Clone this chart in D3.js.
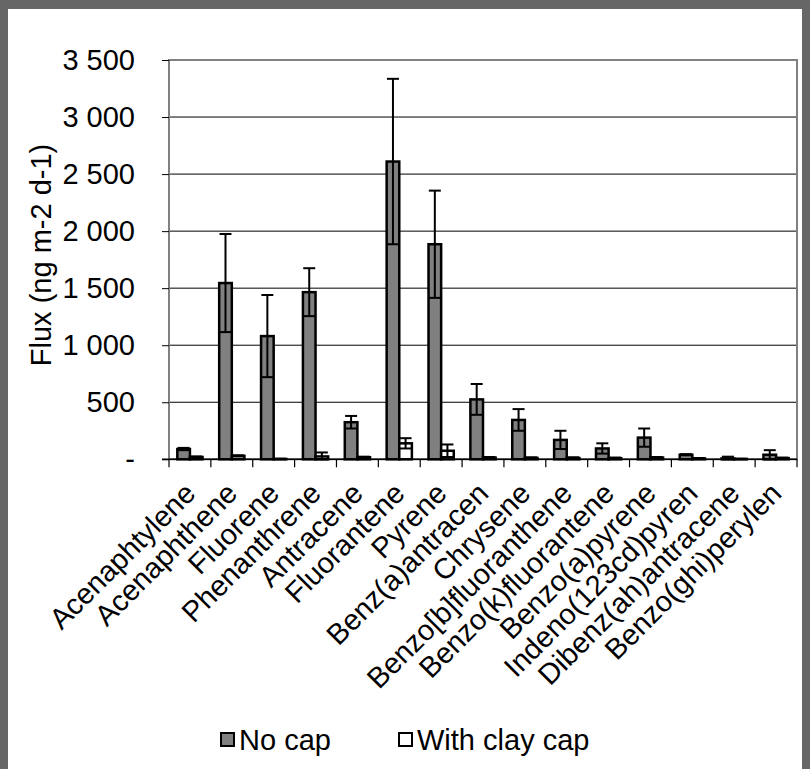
<!DOCTYPE html>
<html>
<head>
<meta charset="utf-8">
<script src="https://cdn.jsdelivr.net/npm/d3@7"></script>
<style>
  html, body { margin: 0; padding: 0; background: #fff; }
  svg { display: block; }
  text { font-family: "Liberation Sans", Arial, sans-serif; fill: #000; }
</style>
</head>
<body>
<svg id="chart" width="810" height="769"></svg>
<script>
// PAH flux per compound, without and with a clay cap (ng m-2 d-1)
const categories = [
  "Acenaphtylene", "Acenaphthene", "Fluorene", "Phenanthrene", "Antracene",
  "Fluorantene", "Pyrene", "Benz(a)antracen", "Chrysene", "Benzo[b]fluoranthene",
  "Benzo(k)fluorantene", "Benzo(a)pyrene", "Indeno(123cd)pyren",
  "Dibenz(ah)antracene", "Benzo(ghi)perylen"
];
const seriesNames = ["No cap", "With clay cap"];
const noCap     = [90, 1545, 1080, 1465, 325, 2610, 1885, 525, 345, 170, 95, 190, 40, 8, 40];
const noCapErr  = [10, 430, 360, 210, 55, 725, 470, 135, 95, 80, 45, 80, 5, 15, 40];
const clayCap   = [20, 30, 3, 25, 18, 140, 75, 15, 12, 12, 10, 15, 8, 3, 10];
const clayErr   = [5, 5, 2, 35, 5, 45, 55, 5, 5, 5, 5, 5, 3, 2, 5];
const yTicks    = [0, 500, 1000, 1500, 2000, 2500, 3000, 3500];

const series = [
  { name: seriesNames[0], values: noCap, errors: noCapErr, fill: "#808080" },
  { name: seriesNames[1], values: clayCap, errors: clayErr, fill: "#ffffff" }
];

const svg = d3.select("#chart");
const W = 810, H = 769;
const FONT = "29px";

// outer frame
svg.append("rect").attr("x", 0).attr("y", 0).attr("width", W).attr("height", H).attr("fill", "#666666");
svg.append("rect").attr("x", 8).attr("y", 9).attr("width", W - 16).attr("height", H - 9).attr("fill", "#ffffff");

const plot = { left: 169, right: 797, top: 60, bottom: 459.3 };

const x = d3.scaleBand().domain(categories).range([plot.left, plot.right]).paddingInner(0).paddingOuter(0);
const xs = d3.scaleBand().domain(seriesNames).range([0, x.bandwidth()]).paddingInner(0).paddingOuter(0.66);
const y = d3.scaleLinear().domain([0, 3500]).range([plot.bottom, plot.top]);

const fmt = d3.formatLocale({ decimal: ",", thousands: " ", grouping: [3], currency: ["", ""] }).format(",d");

// horizontal gridlines
svg.append("g")
  .selectAll("line")
  .data(yTicks.filter(d => d > 0 && d < 3500))
  .join("line")
  .attr("x1", plot.left).attr("x2", plot.right)
  .attr("y1", d => y(d)).attr("y2", d => y(d))
  .attr("stroke", "#000").attr("stroke-width", 1);

// plot area border
svg.append("rect")
  .attr("x", plot.left).attr("y", plot.top)
  .attr("width", plot.right - plot.left).attr("height", plot.bottom - plot.top)
  .attr("fill", "none").attr("stroke", "#808080").attr("stroke-width", 2);

// bars
const groups = svg.append("g").selectAll("g")
  .data(series)
  .join("g");

groups.selectAll("rect")
  .data(s => s.values.map((v, i) => ({ s, v, i })))
  .join("rect")
  .attr("x", d => x(categories[d.i]) + xs(d.s.name))
  .attr("width", xs.bandwidth())
  .attr("y", d => y(d.v))
  .attr("height", d => y(0) - y(d.v))
  .attr("fill", d => d.s.fill)
  .attr("stroke", "#000")
  .attr("stroke-width", 2.5);

// error bars
const capHalf = 6;
const eg = svg.append("g").attr("stroke", "#000").attr("stroke-width", 2);
series.forEach(s => {
  s.values.forEach((v, i) => {
    const cx = x(categories[i]) + xs(s.name) + xs.bandwidth() / 2;
    const hi = y(v + s.errors[i]);
    const lo = y(Math.max(0, v - s.errors[i]));
    eg.append("line").attr("x1", cx).attr("x2", cx).attr("y1", hi).attr("y2", lo);
    eg.append("line").attr("x1", cx - capHalf).attr("x2", cx + capHalf).attr("y1", hi).attr("y2", hi);
    eg.append("line").attr("x1", cx - capHalf).attr("x2", cx + capHalf).attr("y1", lo).attr("y2", lo);
  });
});

// y axis
const yAxis = svg.append("g")
  .attr("transform", `translate(${plot.left},0)`)
  .call(d3.axisLeft(y).tickValues(yTicks).tickSize(7).tickPadding(27)
    .tickFormat(d => d === 0 ? "-" : fmt(d)));
yAxis.select(".domain").remove();
yAxis.selectAll(".tick line").attr("stroke", "#000").attr("stroke-width", 1);
yAxis.selectAll(".tick text")
  .style("font-size", FONT)
  .style("font-family", "'Liberation Sans', Arial, sans-serif");

// x axis baseline and category ticks
svg.append("line")
  .attr("x1", plot.left - 7).attr("x2", plot.right)
  .attr("y1", plot.bottom).attr("y2", plot.bottom)
  .attr("stroke", "#000").attr("stroke-width", 1.5);

svg.append("g")
  .selectAll("line")
  .data(d3.range(categories.length + 1))
  .join("line")
  .attr("x1", i => plot.left + i * x.step())
  .attr("x2", i => plot.left + i * x.step())
  .attr("y1", plot.bottom).attr("y2", plot.bottom + 8)
  .attr("stroke", "#000").attr("stroke-width", 1.2);

// rotated category labels
svg.append("g")
  .selectAll("text")
  .data(categories)
  .join("text")
  .attr("transform", d => `translate(${x(d) + x.bandwidth() / 2},488) rotate(-45)`)
  .attr("text-anchor", "end")
  .attr("dy", "0.35em")
  .style("font-size", FONT)
  .text(d => d);

// y axis title
svg.append("text")
  .attr("transform", "translate(51,255) rotate(-90)")
  .attr("text-anchor", "middle")
  .style("font-size", FONT)
  .text("Flux (ng m-2 d-1)");

// legend
const legendItems = [
  { name: seriesNames[0], fill: "#808080", bx: 221, tx: 239 },
  { name: seriesNames[1], fill: "#ffffff", bx: 399, tx: 417 }
];
const lg = svg.append("g");
lg.selectAll("rect")
  .data(legendItems)
  .join("rect")
  .attr("x", d => d.bx).attr("y", 733)
  .attr("width", 13).attr("height", 13)
  .attr("fill", d => d.fill).attr("stroke", "#000").attr("stroke-width", 2);
lg.selectAll("text")
  .data(legendItems)
  .join("text")
  .attr("x", d => d.tx).attr("y", 750)
  .style("font-size", FONT)
  .text(d => d.name);
</script>
</body>
</html>
